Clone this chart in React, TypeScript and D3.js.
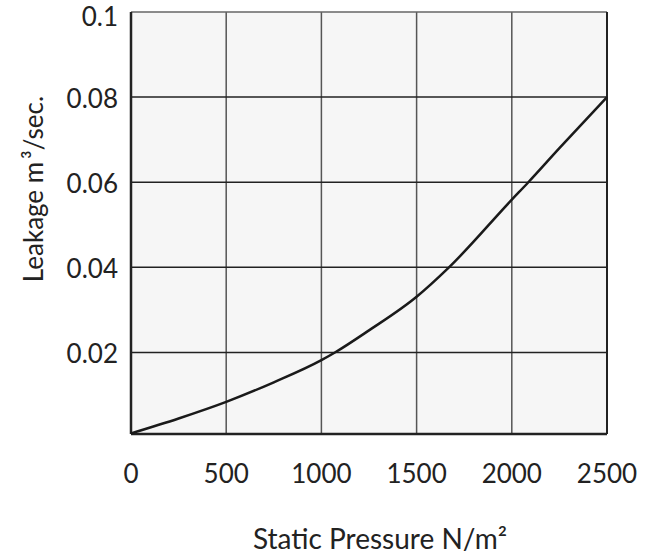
import React, { useEffect, useRef } from 'react';
import * as d3 from 'd3';

// static pressure (N/m²) and leakage (m³/sec)
const pressure = [0, 250, 500, 750, 1000, 1071, 1250, 1500, 1670, 2000, 2087, 2250, 2500];
const leakage = [0.001, 0.0045, 0.0084, 0.013, 0.0182, 0.02, 0.0252, 0.0331, 0.04, 0.0559, 0.06, 0.068, 0.08];
const xTicks = [0, 500, 1000, 1500, 2000, 2500];
const yTicks = [0.02, 0.04, 0.06, 0.08, 0.1];
const yTickLabels = ['0.02', '0.04', '0.06', '0.08', '0.1'];

const W = 654, H = 555;
const margin = { top: 12, right: 47, bottom: 121, left: 131 };
const font = 'Lato';
const fs = 26;

const App = () => {
  const ref = useRef<SVGSVGElement>(null);

  useEffect(() => {
    const svg = d3.select(ref.current);
    svg.selectAll('*').remove();
    const width = W - margin.left - margin.right;
    const height = H - margin.top - margin.bottom;

    const x = d3.scaleLinear().domain([0, 2500]).range([0, width]);
    const y = d3.scaleLinear().domain([0.00085, 0.1]).range([height, 0]);

    const g = svg.append('g').attr('transform', `translate(${margin.left},${margin.top})`);

    g.append('rect')
      .attr('width', width)
      .attr('height', height)
      .attr('fill', '#f6f6f6');

    // vertical grid
    g.selectAll('.vgrid')
      .data(xTicks.slice(1, -1))
      .join('line')
      .attr('x1', d => x(d)).attr('x2', d => x(d))
      .attr('y1', 0).attr('y2', height)
      .attr('stroke', '#555').attr('stroke-width', 1.5);

    // horizontal grid
    g.selectAll('.hgrid')
      .data(yTicks.slice(0, -1))
      .join('line')
      .attr('x1', 0).attr('x2', width)
      .attr('y1', d => y(d)).attr('y2', d => y(d))
      .attr('stroke', '#222').attr('stroke-width', 1.5);

    // frame
    g.append('line').attr('x1', 0).attr('x2', width).attr('y1', 0).attr('y2', 0)
      .attr('stroke', '#666').attr('stroke-width', 1.5);
    g.append('line').attr('x1', width).attr('x2', width).attr('y1', 0).attr('y2', height)
      .attr('stroke', '#222').attr('stroke-width', 2);
    g.append('line').attr('x1', 0).attr('x2', 0).attr('y1', 0).attr('y2', height)
      .attr('stroke', '#222').attr('stroke-width', 2.5);
    g.append('line').attr('x1', 0).attr('x2', width).attr('y1', height).attr('y2', height)
      .attr('stroke', '#222').attr('stroke-width', 2.5);

    // curve
    const line = d3.line<number>()
      .x((d, i) => x(pressure[i]))
      .y(d => y(d))
      .curve(d3.curveMonotoneX);
    g.append('path')
      .datum(leakage)
      .attr('d', line)
      .attr('fill', 'none')
      .attr('stroke', '#1a1a1a')
      .attr('stroke-width', 2.5);

    // tick labels
    g.selectAll('.xlab')
      .data(xTicks)
      .join('text')
      .attr('x', d => x(d))
      .attr('y', height + 49)
      .attr('text-anchor', 'middle')
      .attr('font-family', font)
      .attr('font-size', fs)
      .attr('fill', '#222')
      .text(d => d);

    g.selectAll('.ylab')
      .data(yTicks)
      .join('text')
      .attr('x', -13)
      .attr('y', d => y(d))
      .attr('dy', (d, i) => (i === yTicks.length - 1 ? '0.54em' : '0.42em'))
      .attr('text-anchor', 'end')
      .attr('font-family', font)
      .attr('font-size', fs)
      .attr('fill', '#222')
      .text((d, i) => yTickLabels[i]);

    // axis titles
    svg.append('text')
      .attr('x', 380)
      .attr('y', 549)
      .attr('text-anchor', 'middle')
      .attr('font-family', font)
      .attr('font-size', 28)
      .attr('fill', '#222')
      .text('Static Pressure N/m²');

    const yTitle = svg.append('text')
      .attr('transform', 'translate(43,189) rotate(-90)')
      .attr('text-anchor', 'middle')
      .attr('font-family', font)
      .attr('font-size', fs)
      .attr('fill', '#222');
    yTitle.append('tspan').text('Leakage m');
    yTitle.append('tspan').attr('dx', 3).text('³/sec.');
  }, []);

  return (
    <svg ref={ref} width={W} height={H}
      style={{ position: 'absolute', left: 0, top: 0, background: '#fff' }} />
  );
};

export default App;
